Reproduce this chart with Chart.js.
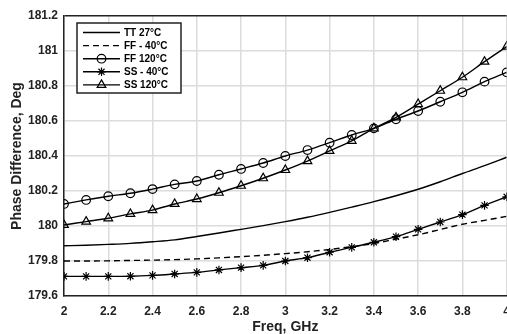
<!DOCTYPE html>
<html>
<head>
<meta charset="utf-8">
<script src="https://cdn.jsdelivr.net/npm/chart.js@4/dist/chart.umd.min.js"></script>
<style>
  html, body { margin: 0; padding: 0; background: #fff; overflow: hidden; }
  #wrap { width: 507px; height: 334px; overflow: hidden; }
  #box { width: 518px; height: 336px; position: relative; }
</style>
</head>
<body>
<div id="wrap"><div id="box"><canvas id="myChart"></canvas></div></div>
<script>
// frequency points, GHz
var freq = [2.0, 2.1, 2.2, 2.3, 2.4, 2.5, 2.6, 2.7, 2.8, 2.9, 3.0,
            3.1, 3.2, 3.3, 3.4, 3.5, 3.6, 3.7, 3.8, 3.9, 4.0];

// phase difference, deg
var tt27 = [179.887, 179.890, 179.895, 179.901, 179.910, 179.921, 179.940, 179.960, 179.981, 180.002, 180.025,
            180.050, 180.078, 180.108, 180.139, 180.173, 180.210, 180.253, 180.300, 180.345, 180.393];
var ffm40 = [179.800, 179.800, 179.801, 179.803, 179.805, 179.808, 179.812, 179.818, 179.825, 179.833, 179.842,
             179.853, 179.866, 179.882, 179.900, 179.925, 179.950, 179.980, 180.010, 180.032, 180.055];
var ff120 = [180.126, 180.149, 180.170, 180.187, 180.211, 180.238, 180.257, 180.293, 180.326, 180.360, 180.400,
             180.434, 180.476, 180.520, 180.558, 180.610, 180.657, 180.710, 180.764, 180.825, 180.878];
var ssm40 = [179.712, 179.712, 179.712, 179.713, 179.718, 179.726, 179.735, 179.749, 179.762, 179.775, 179.800,
             179.819, 179.850, 179.878, 179.907, 179.939, 179.981, 180.023, 180.065, 180.118, 180.167];
var ss120 = [180.006, 180.025, 180.044, 180.069, 180.091, 180.126, 180.154, 180.190, 180.230, 180.273, 180.320,
             180.371, 180.429, 180.487, 180.558, 180.621, 180.697, 180.773, 180.850, 180.939, 181.025];

var seriesNames = ['TT 27°C', 'FF - 40°C', 'FF 120°C', 'SS - 40°C', 'SS 120°C'];
var xTicks = [2, 2.2, 2.4, 2.6, 2.8, 3, 3.2, 3.4, 3.6, 3.8, 4];
var yTicks = [179.6, 179.8, 180, 180.2, 180.4, 180.6, 180.8, 181, 181.2];

var FONT = "'Liberation Sans', Arial, sans-serif";

function pts(ys) {
    return freq.map(function(f, i) { return { x: f, y: ys[i] }; });
}

function makeSet(label, ys, style, dash) {
    return {
        label: label,
        data: pts(ys),
        borderColor: '#000',
        borderWidth: 1.4,
        borderDash: dash || [],
        backgroundColor: 'rgba(0,0,0,0)',
        pointStyle: style || 'circle',
        pointRadius: style ? (style === 'triangle' ? 5 : 4.3) : 0,
        pointBorderColor: '#000',
        pointBorderWidth: 1.2,
        pointBackgroundColor: 'rgba(0,0,0,0)',
        cubicInterpolationMode: 'monotone',
        fill: false
    };
}

var datasets = [
    makeSet(seriesNames[0], tt27, null),
    makeSet(seriesNames[1], ffm40, null, [6, 4]),
    makeSet(seriesNames[2], ff120, 'circle'),
    makeSet(seriesNames[3], ssm40, 'star'),
    makeSet(seriesNames[4], ss120, 'triangle')
];

// legend drawn inside the plot, top left
var boxLegend = {
    id: 'boxLegend',
    afterDraw: function(chart) {
        var ctx = chart.ctx;
        var x0 = 77, y0 = 23, w = 104, h = 70;
        ctx.save();
        ctx.fillStyle = '#fff';
        ctx.fillRect(x0, y0, w, h);
        ctx.strokeStyle = '#222';
        ctx.lineWidth = 1.5;
        ctx.strokeRect(x0, y0, w, h);
        ctx.font = 'bold 10px ' + FONT;
        ctx.textBaseline = 'middle';
        ctx.textAlign = 'left';
        chart.data.datasets.forEach(function(ds, i) {
            var y = 32.5 + i * 13.1;
            ctx.strokeStyle = '#000';
            ctx.lineWidth = 1.4;
            ctx.setLineDash(ds.borderDash);
            ctx.beginPath();
            ctx.moveTo(83, y);
            ctx.lineTo(120, y);
            ctx.stroke();
            ctx.setLineDash([]);
            if (ds.pointRadius > 0) {
                ctx.fillStyle = 'rgba(0,0,0,0)';
                ctx.strokeStyle = '#000';
                ctx.lineWidth = ds.pointBorderWidth;
                Chart.helpers.drawPoint(ctx, {
                    pointStyle: ds.pointStyle,
                    radius: ds.pointRadius,
                    rotation: 0,
                    borderWidth: ds.pointBorderWidth
                }, 101.5, y);
            }
            ctx.fillStyle = '#000';
            ctx.fillText(ds.label, 124, y + 0.5);
        });
        ctx.restore();
    }
};

var ctx = document.getElementById('myChart').getContext('2d');
var chart = new Chart(ctx, {
    type: 'line',
    data: { datasets: datasets },
    plugins: [boxLegend],
    options: {
        responsive: true,
        maintainAspectRatio: false,
        animation: false,
        layout: { padding: { top: 16, right: 0, bottom: 0, left: 0 } },
        plugins: { legend: { display: false }, tooltip: { enabled: false } },
        scales: {
            x: {
                type: 'linear',
                min: 2,
                max: 4,
                afterBuildTicks: function(axis) {
                    axis.ticks = xTicks.map(function(v) { return { value: v }; });
                },
                afterFit: function(axis) { axis.height = 40; },
                grid: { color: '#dcdcdc', lineWidth: 1.5, drawTicks: false },
                border: { color: '#222', width: 1.5 },
                ticks: {
                    padding: 8,
                    color: '#222',
                    font: { family: FONT, size: 12, weight: 'bold' },
                    maxRotation: 0,
                    callback: function(v) { return String(Math.round(v * 10) / 10); }
                },
                title: {
                    display: true,
                    text: 'Freq, GHz',
                    color: '#222',
                    padding: { top: 0, bottom: 0 },
                    font: { family: FONT, size: 14, weight: 'bold' }
                }
            },
            y: {
                min: 179.6,
                max: 181.2,
                afterBuildTicks: function(axis) {
                    axis.ticks = yTicks.map(function(v) { return { value: v }; });
                },
                afterFit: function(axis) { axis.width = 64; },
                grid: {
                    lineWidth: 1.5,
                    drawTicks: false,
                    color: function(c) {
                        return (c.tick && Math.abs(c.tick.value - 181.2) < 1e-6) ? '#222' : '#dcdcdc';
                    }
                },
                border: { color: '#222', width: 1.5 },
                ticks: {
                    padding: 6,
                    color: '#222',
                    font: { family: FONT, size: 12, weight: 'bold' },
                    callback: function(v) { return String(Math.round(v * 10) / 10); }
                },
                title: {
                    display: true,
                    text: 'Phase Difference, Deg',
                    color: '#222',
                    padding: { top: 9, bottom: 0 },
                    font: { family: FONT, size: 14, weight: 'bold' }
                }
            }
        }
    }
});
</script>
</body>
</html>
